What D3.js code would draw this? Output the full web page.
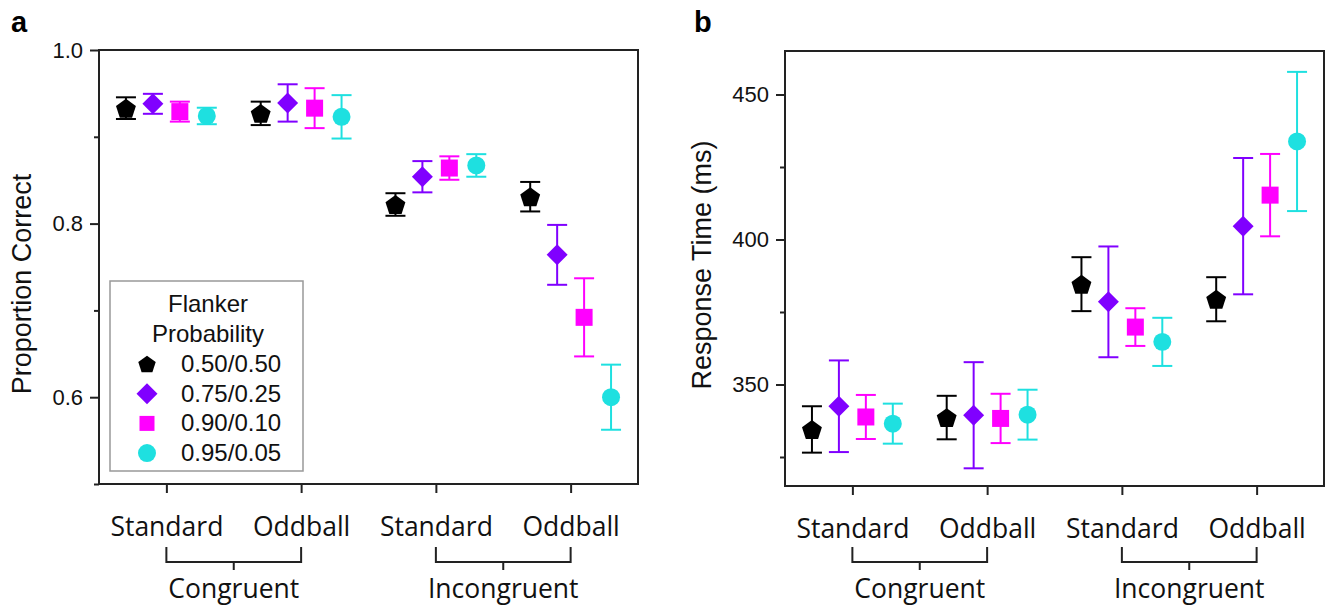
<!DOCTYPE html>
<head>
  <meta charset="utf-8">
  <script src="https://d3js.org/d3.v7.min.js"></script>
<style>
body { margin:0; background:#fff; }

.frame {
  fill: none;
  stroke: #222;
  stroke-width: 2px;
}

.axis path.domain { display: none; }
.axis line { stroke: #222; stroke-width: 2px; }

.axis--y text {
  font-family: "Liberation Sans", Arial, sans-serif;
  font-size: 22px;
  fill: #111;
}

.axis--x text, .group-label {
  font-family: "Open Sans", sans-serif;
  font-size: 26.5px;
  fill: #111;
}

.bracket {
  fill: none;
  stroke: #222;
  stroke-width: 2px;
}

.y-title {
  font-family: "Liberation Sans", Arial, sans-serif;
  font-size: 27px;
  fill: #111;
}

.panel-tag {
  font-family: "Liberation Sans", Arial, sans-serif;
  font-size: 29px;
  font-weight: bold;
}

.legend text {
  font-family: "Liberation Sans", Arial, sans-serif;
  font-size: 24px;
  fill: #111;
}
</style>
</head>

<body>
<script>
// categories on the x axis
var conditions = ["Standard", "Oddball", "Standard", "Oddball"];
var groups = ["Congruent", "Incongruent"];

// flanker probability series
var series = ["0.50/0.50", "0.75/0.25", "0.90/0.10", "0.95/0.05"];
var colors = ["#000000", "#8000ff", "#ff00ff", "#1ee0e0"];

// panel a: proportion correct (mean, +/- error)
var acc50 = [0.933, 0.927, 0.822, 0.831];
var acc75 = [0.938, 0.939, 0.854, 0.764];
var acc90 = [0.929, 0.933, 0.864, 0.692];
var acc95 = [0.924, 0.923, 0.867, 0.600];
var accErr50 = [0.0125, 0.0135, 0.013, 0.017];
var accErr75 = [0.0115, 0.0215, 0.018, 0.0345];
var accErr90 = [0.0115, 0.023, 0.0135, 0.045];
var accErr95 = [0.0095, 0.025, 0.013, 0.0375];

// panel b: response time in ms (mean, +/- error)
var rt50 = [334.5, 338.6, 384.6, 379.4];
var rt75 = [342.5, 339.4, 378.5, 404.6];
var rt90 = [338.8, 338.3, 369.8, 415.3];
var rt95 = [336.5, 339.6, 364.7, 433.8];
var rtErr50 = [8.0, 7.5, 9.3, 7.6];
var rtErr75 = [15.8, 18.3, 19.1, 23.5];
var rtErr90 = [7.6, 8.5, 6.5, 14.2];
var rtErr95 = [6.9, 8.6, 8.3, 24.0];

// y ticks
var accTicks = [0.5, 0.6, 0.7, 0.8, 0.9, 1.0];
var accLabels = [0.6, 0.8, 1.0];
var rtTicks = [325, 350, 375, 400, 425, 450];
var rtLabels = [350, 400, 450];

// pentagon symbol (d3 has none built in)
var symbolPentagon = {
  draw: function(context, size) {
    var r = Math.sqrt(size / 2.3776);
    for (var i = 0; i < 5; i++) {
      var a = -Math.PI / 2 + i * 2 * Math.PI / 5;
      var px = r * Math.cos(a), py = r * Math.sin(a) + r * 0.1;
      if (i === 0) context.moveTo(px, py); else context.lineTo(px, py);
    }
    context.closePath();
  }
};
var shapes = [symbolPentagon, d3.symbolSquare, d3.symbolSquare, d3.symbolCircle];
var sizes = [260, 220, 289, 254];
var rotations = [0, 45, 0, 0];

var svg = d3.select("body").append("svg")
    .attr("width", 1326)
    .attr("height", 607);

function drawPanel(opts) {
  var x = d3.scaleLinear().domain([0.5, 4.5]).range(opts.xRange);
  var y = d3.scaleLinear().domain(opts.yDomain).range(opts.yRange);
  var offsets = [-0.3, -0.1, 0.1, 0.3];
  var g = svg.append("g");

  // y axis with majors and minors
  g.append("g")
      .attr("class", "axis axis--y")
      .attr("transform", "translate(" + opts.xRange[0] + ",0)")
      .call(d3.axisLeft(y)
        .tickValues(opts.yTicks)
        .tickSize(9)
        .tickPadding(7)
        .tickFormat(d => opts.yLabels.some(v => Math.abs(v - d) < 1e-9) ? opts.fmt(d) : ""))
    .selectAll(".tick")
      .filter(d => !opts.yLabels.some(v => Math.abs(v - d) < 1e-9))
      .select("line").attr("x2", -5);

  // x axis with condition labels
  g.append("g")
      .attr("class", "axis axis--x")
      .attr("transform", "translate(0," + opts.yRange[0] + ")")
      .call(d3.axisBottom(x)
        .tickValues([1, 2, 3, 4])
        .tickSize(9)
        .tickPadding(24)
        .tickFormat(d => conditions[d - 1]));

  // brackets grouping congruent / incongruent
  groups.forEach((name, k) => {
    var x0 = x(2 * k + 1), x1 = x(2 * k + 2), xm = (x0 + x1) / 2;
    g.append("path")
        .attr("class", "bracket")
        .attr("d", "M" + x0 + ",547V562H" + x1 + "V547M" + xm + ",562V570");
    g.append("text")
        .attr("class", "group-label")
        .attr("x", xm)
        .attr("y", 598)
        .attr("text-anchor", "middle")
        .text(name);
  });

  // frame
  g.append("rect")
      .attr("class", "frame")
      .attr("x", opts.xRange[0])
      .attr("y", opts.yRange[1])
      .attr("width", opts.xRange[1] - opts.xRange[0])
      .attr("height", opts.yRange[0] - opts.yRange[1]);

  // error bars and markers
  opts.means.forEach((m, s) => {
    m.forEach((v, i) => {
      var cx = x(i + 1 + offsets[s]);
      var e = opts.errs[s][i];
      var bar = g.append("g")
          .attr("stroke", colors[s])
          .attr("stroke-width", 2);
      bar.append("line")
          .attr("x1", cx).attr("x2", cx)
          .attr("y1", y(v - e)).attr("y2", y(v + e));
      [v - e, v + e].forEach(c => {
        bar.append("line")
            .attr("x1", cx - 10).attr("x2", cx + 10)
            .attr("y1", y(c)).attr("y2", y(c));
      });
      g.append("path")
          .attr("d", d3.symbol().type(shapes[s]).size(sizes[s]))
          .attr("transform", "translate(" + cx + "," + y(v) + ") rotate(" + rotations[s] + ")")
          .attr("fill", colors[s]);
    });
  });

  // y title
  g.append("text")
      .attr("class", "y-title")
      .attr("transform", "translate(" + opts.titleX + "," + opts.titleY + ") rotate(-90)")
      .attr("text-anchor", "middle")
      .text(opts.title);

  // panel letter
  g.append("text")
      .attr("class", "panel-tag")
      .attr("x", opts.tagX)
      .attr("y", 32)
      .text(opts.tag);
}

drawPanel({
  tag: "a", tagX: 11,
  xRange: [99, 638], yRange: [484, 50], yDomain: [0.5, 1.0],
  yTicks: accTicks, yLabels: accLabels, fmt: d3.format(".1f"),
  title: "Proportion Correct", titleX: 31, titleY: 284,
  means: [acc50, acc75, acc90, acc95],
  errs: [accErr50, accErr75, accErr90, accErr95]
});

drawPanel({
  tag: "b", tagX: 694,
  xRange: [785, 1324], yRange: [486, 51], yDomain: [315, 465],
  yTicks: rtTicks, yLabels: rtLabels, fmt: d3.format("d"),
  title: "Response Time (ms)", titleX: 711, titleY: 265,
  means: [rt50, rt75, rt90, rt95],
  errs: [rtErr50, rtErr75, rtErr90, rtErr95]
});

// legend (panel a only)
var legend = svg.append("g").attr("class", "legend");
legend.append("rect")
    .attr("x", 110).attr("y", 281)
    .attr("width", 193).attr("height", 190)
    .attr("fill", "#fff")
    .attr("stroke", "#999")
    .attr("stroke-width", 1.5);
legend.append("text").attr("x", 208).attr("y", 312).attr("text-anchor", "middle").text("Flanker");
legend.append("text").attr("x", 208).attr("y", 342).attr("text-anchor", "middle").text("Probability");
var legendSizes = [200, 220, 225, 254];
series.forEach((name, s) => {
  var ly = 364 + s * 29.7;
  legend.append("path")
      .attr("d", d3.symbol().type(shapes[s]).size(legendSizes[s]))
      .attr("transform", "translate(147," + ly + ") rotate(" + rotations[s] + ")")
      .attr("fill", colors[s]);
  legend.append("text")
      .attr("x", 181)
      .attr("y", ly + 8)
      .text(name);
});
</script>
</body>
